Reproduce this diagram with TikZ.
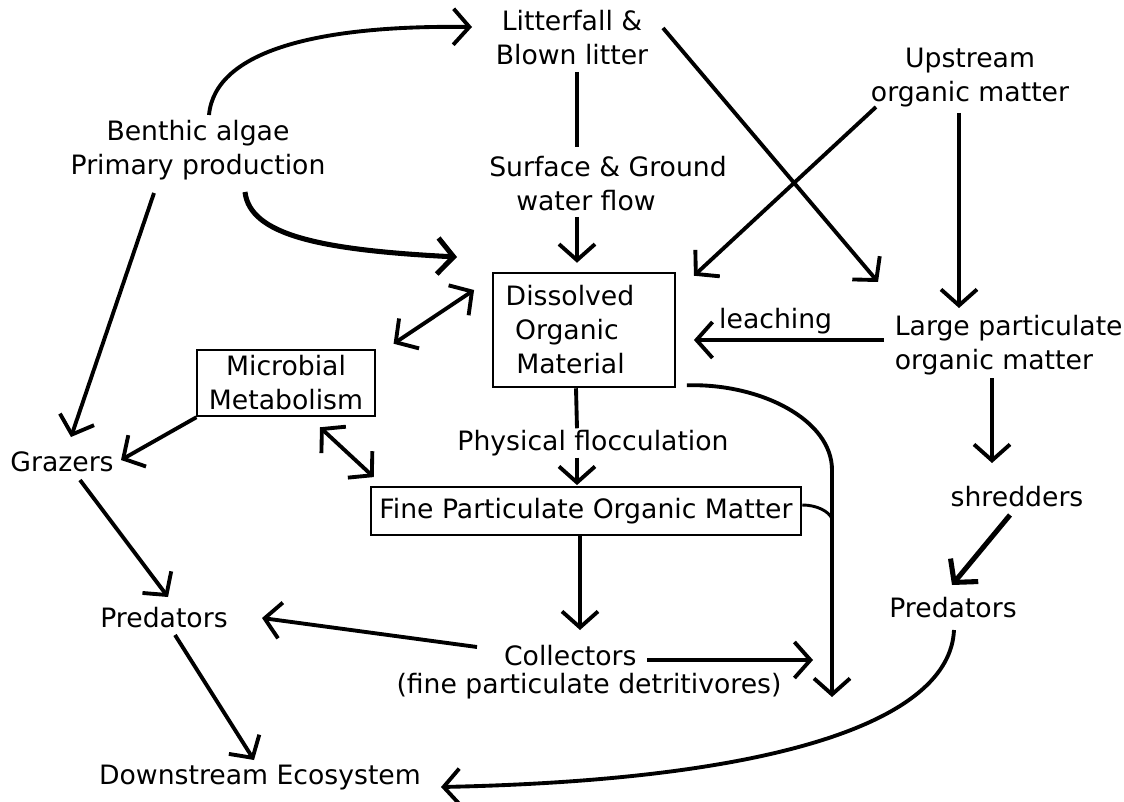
\documentclass[tikz,border=0pt]{standalone}
\usepackage{fontspec}
\setmainfont{DejaVu Sans}
\usetikzlibrary{arrows.meta,calc}

\tikzset{every picture/.style={line width=0.75pt}}
\tikzset{
  txt/.style={inner sep=1pt, align=center, font=\fontsize{20}{25.5}\selectfont},
  boxed/.style={txt, draw, line width=1.4pt},
  plain/.style={line width=2.9pt},
  flow/.style={plain, -{Straight Barb[length=12pt,width=27pt]}},
  heavy/.style={flow, line width=3.8pt},
  twoway/.style={plain, {Straight Barb[length=12pt,width=27pt]}-{Straight Barb[length=12pt,width=27pt]}},
}

\begin{document}
\begin{tikzpicture}[x=0.75pt,y=0.75pt,yscale=-1,xscale=1]
\useasboundingbox (0,0) rectangle (1124,802);

% Text Node
\node[txt] (litter) at (572,38) {Litterfall \&\\Blown litter};
% Text Node
\node[txt] (upstream) at (970,78) {Upstream\\organic matter};
% Text Node
\node[txt] (benthic) at (198,150) {Benthic algae\\Primary production};
% Text Node
\node[txt] (surface) at (608,184) {Surface \& Ground\\water flow\hspace*{33pt}};
% Shape: Rectangle
\node[boxed, align=left, minimum width=136.5pt, minimum height=86pt] (dom) at (584,330) {Dissolved\hspace*{21pt}\\\hspace*{7pt}Organic\\\hspace*{8pt}Material};
% Text Node
\node[txt, anchor=west, align=left] (lpom) at (893,345) {Large particulate\\organic matter};
% Shape: Rectangle
\node[boxed, minimum width=133pt, minimum height=50pt] (microbial) at (286,383) {Microbial\\Metabolism};
% Text Node
\node[txt] (grazers) at (62,462) {Grazers};
% Text Node
\node[txt] (floc) at (593,443) {Physical flocculation};
% Shape: Rectangle
\node[boxed, minimum width=323pt, minimum height=36pt] (fpom) at (586,511) {Fine Particulate Organic Matter};
% Text Node
\node[txt] (shredders) at (1017,497) {shredders};
% Text Node
\node[txt] (predL) at (164,618) {Predators};
% Text Node
\node[txt] (predR) at (953,608) {Predators};
% Text Node
\node[txt] (collectors) at (589,672) {Collectors\hspace*{28pt}\\[-5pt](fine particulate detritivores)};
% Text Node
\node[txt] (downstream) at (260,778) {Downstream Ecosystem};
\coordinate (outflow) at (832,697);
\coordinate (joint) at (832,519);

%Curve Lines
\draw[flow] ($(benthic)+(11,-35)$) .. controls +(6,-65) and +(-152,-2) .. ($(litter)+(-100,-11)$);
%Curve Lines
\draw[heavy] ($(benthic)+(47,42)$) .. controls +(5,43) and +(-137,-7) .. ($(dom)+(-127,-73)$);
%Straight Lines
\draw[flow] ($(benthic)+(-44,43)$) -- ($(grazers)+(9,-25)$);
\draw[plain] ($(litter)+(5,34)$) -- ($(surface)+(-31,-37)$);
\draw[flow] ($(surface)+(-31,33)$) -- ($(dom.north)+(-7,-9)$);
\draw[flow] ($(litter)+(91,-10)$) -- ($(lpom.west)+(-15,-63)$);
\draw[flow] ($(upstream)+(-94,29)$) -- ($(dom.north east)+(18,4)$);
\draw[flow] ($(upstream)+(-11,35)$) -- ($(lpom.west)+(66,-37)$);
\draw[flow] ($(lpom.west)+(-9,-5)$) -- node[txt, above, pos=.57, yshift=2pt] (leach) {leaching} ($(dom.east)+(18,10)$);
\draw[twoway] ($(microbial.north east)+(18,-5)$) -- ($(dom.west)+(-18,-40)$);
\draw[flow] (microbial.south west) -- ($(grazers)+(59,-2)$);
\draw[twoway] ($(microbial.south)+(34,10)$) -- ($(fpom.north west)+(4,-9)$);
\draw[plain] ($(dom.south)+(-8,0)$) -- ($(floc.north)+(-16,0)$);
\draw[flow] ($(floc.south)+(-16,0)$) -- ($(fpom.north)+(-9,-1)$);
\draw[flow] ($(fpom.south)+(-6,0)$) -- ($(collectors)+(-9,-42)$);
\draw[flow] ($(collectors)+(-112,-25)$) -- ($(predL)+(98,0)$);
\draw[flow] ($(collectors)+(58,-12)$) -- ($(outflow)+(-19,-37)$);
%Curve Lines
\draw[flow] ($(dom.south east)+(11,-3)$) .. controls +(74,-2) and +(0,-50) .. ($(outflow)+(0,-227)$) -- (outflow);
\draw[line width=2.2pt] ($(fpom.east)+(0,-6)$) .. controls +(14,0) and +(-3,-8) .. (joint);
%Straight Lines
\draw[flow] ($(lpom.west)+(99,33)$) -- ($(shredders)+(-25,-34)$);
\draw[heavy] ($(shredders)+(-7,18)$) -- ($(predR)+(-1,-23)$);
\draw[flow] ($(grazers)+(18,18)$) -- ($(predL)+(4,-21)$);
\draw[flow] ($(predL)+(11,17)$) -- ($(downstream)+(-6,-18)$);
%Curve Lines
\draw[flow] ($(predR)+(1,22)$) .. controls +(-4,90) and +(339,-7) .. ($(downstream)+(181,9)$);
\end{tikzpicture}
\end{document}
